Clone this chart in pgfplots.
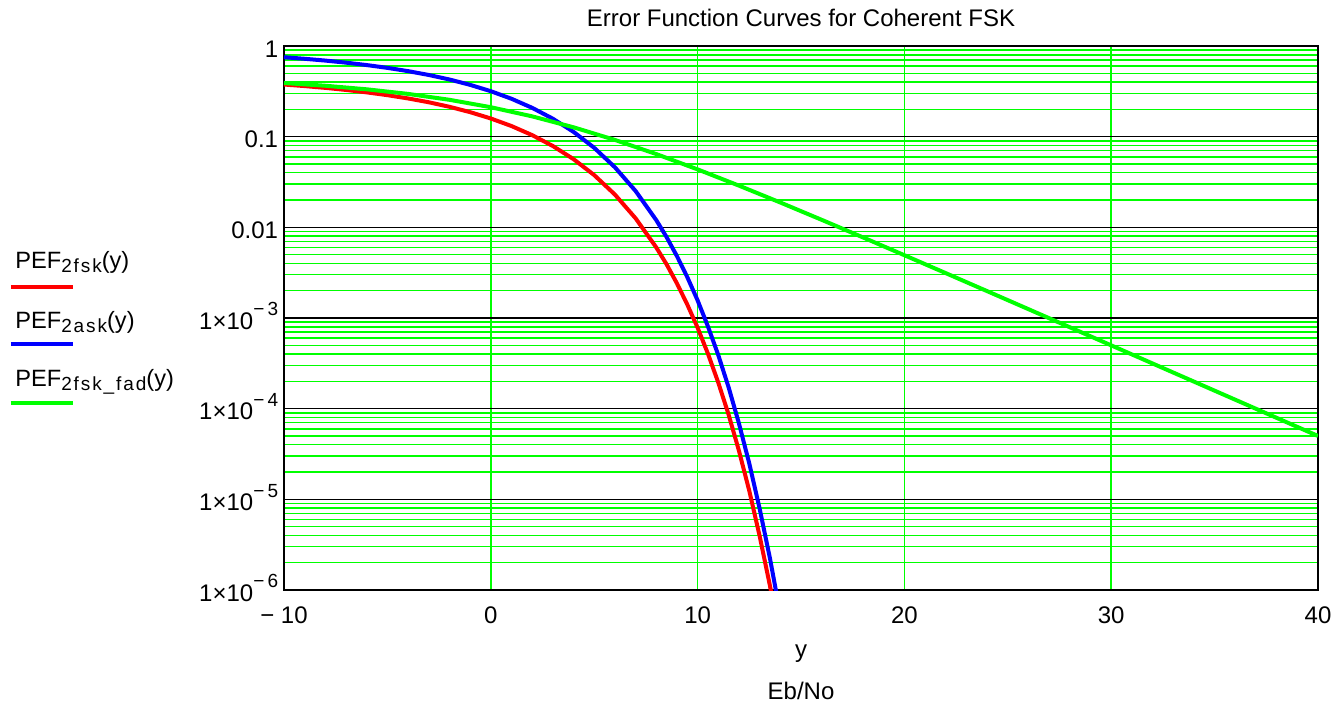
\documentclass[border=0pt]{standalone}
\usepackage{fontspec}
\setmainfont{Liberation Sans}
\newfontfamily\subfont[LetterSpace=10]{Liberation Sans}
\usepackage{pgfplots}
\pgfplotsset{compat=1.18}

\definecolor{mcred}{RGB}{255,0,0}
\definecolor{mcblue}{RGB}{0,0,255}
\definecolor{mcgreen}{RGB}{0,255,0}

% exponent and subscript as Mathcad sets them
\newcommand{\ex}[1]{\raisebox{6.7pt}{\fontsize{9.5}{9.5}\selectfont −\,#1}}
\newcommand{\sub}[1]{\raisebox{-2pt}{\subfont\fontsize{9.5}{9.5}\selectfont #1}}

\begin{document}
\begin{tikzpicture}
\begin{axis}[
    name=ax,
    scale only axis,
    width=517pt, height=272pt,
    xmin=-10, xmax=40,
    ymode=log, ymin=1e-6, ymax=1,
    xtick={-10,0,10,20,30,40},
    xticklabels={{−\ 10},0,10,20,30,40},
    ytick={1e-6,1e-5,1e-4,1e-3,0.01,0.1,1},
    yticklabels={1×10\ex{6},1×10\ex{5},1×10\ex{4},1×10\ex{3},0.01,0.1,1},
    minor ytick={2e-6,3e-6,4e-6,5e-6,6e-6,7e-6,8e-6,9e-6,
                 2e-5,3e-5,4e-5,5e-5,6e-5,7e-5,8e-5,9e-5,
                 2e-4,3e-4,4e-4,5e-4,6e-4,7e-4,8e-4,9e-4,
                 2e-3,3e-3,4e-3,5e-3,6e-3,7e-3,8e-3,9e-3,
                 0.02,0.03,0.04,0.05,0.06,0.07,0.08,0.09,
                 0.2,0.3,0.4,0.5,0.6,0.7,0.8,0.9},
    xmajorgrids, ymajorgrids, yminorgrids,
    major x grid style={draw=mcgreen, line width=0.75pt},
    major y grid style={draw=black, line width=0.65pt},
    minor y grid style={draw=mcgreen, line width=0.75pt},
    tick style={draw=none},
    axis line style={line width=0.75pt},
    tick label style={font=\fontsize{12}{14}\selectfont, inner sep=0pt},
    xticklabel style={anchor=base, yshift=-16.5pt},
    yticklabel style={anchor=base east, yshift=-5.6pt, xshift=-2.75pt},
]
\addplot[mcred, line width=2pt] coordinates {
    (-10,0.3759) (-9,0.3614) (-8,0.3453) (-7,0.3276) (-6,0.3081)
    (-5,0.2869) (-4,0.2640) (-3,0.2396) (-2,0.2136) (-1,0.1864)
    (0,0.1587) (1,0.1310) (2,0.1040) (3,0.0789) (4,0.0565)
    (5,0.0377) (6,0.0230) (7,0.01259) (8,0.00601) (8.5,0.00391)
    (9,0.00241) (9.5,0.00141) (10,7.83e-4) (10.5,4.04e-4) (11,1.94e-4)
    (11.5,8.59e-5) (12,3.43e-5) (12.5,1.24e-5) (13,3.94e-6) (13.5,1.11e-6)
    (14,2.7e-7)
};
\addplot[mcblue, line width=2pt] coordinates {
    (-10,0.7518) (-9,0.7228) (-8,0.6906) (-7,0.6551) (-6,0.6162)
    (-5,0.5739) (-4,0.5280) (-3,0.4791) (-2,0.4271) (-1,0.3728)
    (0,0.3173) (1,0.2619) (2,0.2080) (3,0.1578) (4,0.1130)
    (5,0.0754) (6,0.0460) (7,0.02518) (8,0.01202) (8.5,0.00781)
    (9,0.00482) (9.5,0.00283) (10,1.565e-3) (10.5,8.08e-4) (11,3.90e-4)
    (11.5,1.72e-4) (12,6.87e-5) (12.5,2.48e-5) (13,7.9e-6) (13.5,2.23e-6)
    (14,5.4e-7)
};
\addplot[mcgreen, line width=2pt] coordinates {
    (-10,0.391) (-8,0.3645) (-6,0.3330) (-4,0.2963) (-2,0.2551)
    (0,0.2113) (2,0.1675) (4,0.1269) (6,0.0921) (8,0.0643)
    (10,0.04356) (12,0.02884) (14,0.01879) (16,0.01210) (18,0.00774)
    (20,0.004926) (22,0.003125) (24,0.001979) (26,0.001251) (28,7.906e-4)
    (30,4.993e-4) (32,3.151e-4) (34,1.989e-4) (36,1.255e-4) (38,7.92e-5)
    (40,5.0e-5)
};
\end{axis}

\node[anchor=base, font=\fontsize{12}{14}\selectfont, inner sep=0pt]
    at ([yshift=9.5pt]ax.north) {Error Function Curves for Coherent FSK};
\node[anchor=base, font=\fontsize{12}{14}\selectfont, inner sep=0pt]
    at ([yshift=-33.75pt]ax.south) {y};
\node[anchor=base, font=\fontsize{12}{14}\selectfont, inner sep=0pt]
    at ([yshift=-55pt]ax.south) {Eb/No};

% legend
\begin{scope}[every node/.style={anchor=base west, inner sep=0pt,
        font=\fontsize{11.8}{13}\selectfont}]
\node at (-134.5pt,160.5pt) {PEF\sub{2fsk}(y)};
\draw[mcred, line width=1.8pt] (-136.5pt,151.5pt) -- (-105.5pt,151.5pt);
\node at (-134.5pt,130.5pt) {PEF\sub{2ask}(y)};
\draw[mcblue, line width=1.8pt] (-136.5pt,123pt) -- (-105.5pt,123pt);
\node at (-134.5pt,101.5pt) {PEF\sub{2fsk\_fad}(y)};
\draw[mcgreen, line width=1.8pt] (-136.5pt,93.5pt) -- (-105.5pt,93.5pt);
\end{scope}

\pgfresetboundingbox
\path[use as bounding box] (-142pt,-58pt) rectangle (527.5pt,295pt);
\end{tikzpicture}
\end{document}
